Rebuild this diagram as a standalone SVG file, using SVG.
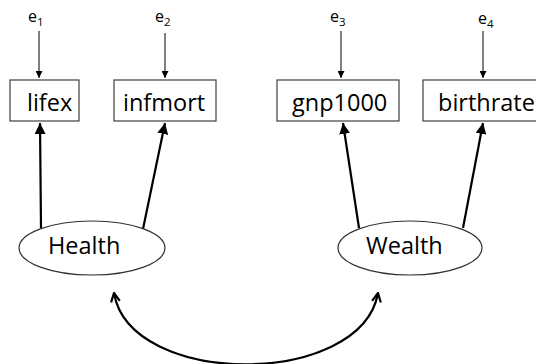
<svg xmlns="http://www.w3.org/2000/svg" width="536" height="364" viewBox="0 0 536 364">
<style>
.box{fill:#fff;stroke:#404040;stroke-width:1.2}
.lat{fill:#fff;stroke:#303030;stroke-width:1.2}
.lbl{font-family:"Open Sans","Liberation Sans",sans-serif;font-size:23.5px;fill:#000}
.err{font-family:"Open Sans","Liberation Sans",sans-serif;font-size:16px;fill:#000}
.sub{font-size:11.5px}
.thin{stroke:#000;stroke-width:1;fill:none}
.thick{stroke:#000;stroke-width:2.2;fill:none}
</style>
<defs>
<marker id="ah" viewBox="0 0 10 10" refX="10" refY="5" markerWidth="7" markerHeight="7" markerUnits="userSpaceOnUse" orient="auto"><path d="M0,0 L10,5 L0,10 Z" fill="#000"/></marker>
<marker id="ah2" viewBox="0 0 10 10" refX="10" refY="5" markerWidth="5" markerHeight="5" orient="auto"><path d="M0,0 L10,5 L0,10 Z" fill="#000"/></marker>
<marker id="chev" viewBox="0 0 10 10" refX="9" refY="5" markerWidth="5" markerHeight="5" orient="auto-start-reverse"><path d="M1,1 L9,5 L1,9" fill="none" stroke="#000" stroke-width="2"/></marker>
</defs>
<g id="connectors">
<line class="thin" x1="39" y1="31" x2="39" y2="78" marker-end="url(#ah)"/>
<line class="thin" x1="165" y1="33" x2="165" y2="78" marker-end="url(#ah)"/>
<line class="thin" x1="341" y1="31" x2="341" y2="78" marker-end="url(#ah)"/>
<line class="thin" x1="483" y1="31" x2="483" y2="78" marker-end="url(#ah)"/>
<line class="thick" x1="41" y1="228" x2="40" y2="123" marker-end="url(#ah2)"/>
<line class="thick" x1="143" y1="229" x2="165" y2="123" marker-end="url(#ah2)"/>
<line class="thick" x1="359" y1="228" x2="343" y2="123" marker-end="url(#ah2)"/>
<line class="thick" x1="463" y1="228" x2="483" y2="123" marker-end="url(#ah2)"/>
<path class="thick" d="M114,293 C130,388 361,388 378,293" marker-start="url(#chev)" marker-end="url(#chev)"/>
</g>
<g id="e1"><text class="err" x="28" y="22">e<tspan class="sub" dy="4">1</tspan></text></g>
<g id="e2"><text class="err" x="155" y="22">e<tspan class="sub" dy="4">2</tspan></text></g>
<g id="e3"><text class="err" x="330" y="22">e<tspan class="sub" dy="4">3</tspan></text></g>
<g id="e4"><text class="err" x="478" y="24">e<tspan class="sub" dy="4">4</tspan></text></g>
<g id="lifex"><rect class="box" x="10" y="80" width="69" height="41"/><text class="lbl" x="27" y="111">lifex</text></g>
<g id="infmort"><rect class="box" x="114" y="80" width="102" height="41"/><text class="lbl" x="123" y="111">infmort</text></g>
<g id="gnp1000"><rect class="box" x="277" y="80" width="122" height="41"/><text class="lbl" x="292" y="111">gnp1000</text></g>
<g id="birthrate"><rect class="box" x="423" y="80" width="120" height="41"/><text class="lbl" x="438" y="111">birthrate</text></g>
<g id="Health"><ellipse class="lat" cx="92" cy="248" rx="73" ry="27"/><text class="lbl" x="48" y="254">Health</text></g>
<g id="Wealth"><ellipse class="lat" cx="410" cy="248" rx="72" ry="27"/><text class="lbl" x="366" y="254">Wealth</text></g>
</svg>
